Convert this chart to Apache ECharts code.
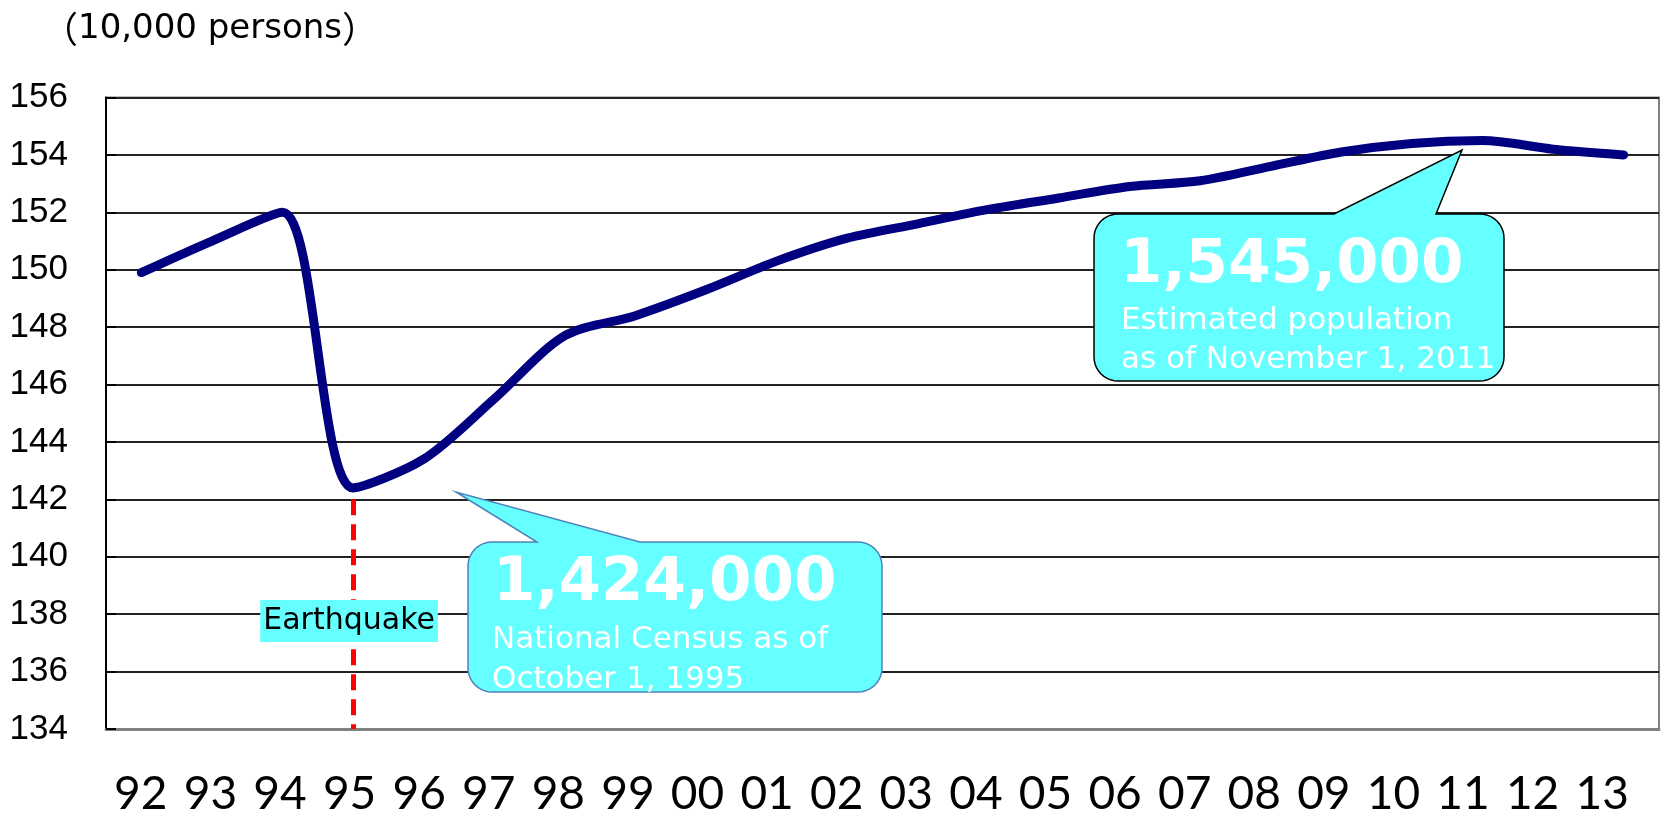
<!DOCTYPE html>
<html><head><meta charset="utf-8">
<script src="https://cdn.jsdelivr.net/npm/echarts@6/dist/echarts.min.js"></script>
<style>html,body{margin:0;padding:0;background:#fff}#chart{width:1664px;height:817px}</style>
</head><body><div id="chart"></div>
<script>
// ---- data ----
const years = ['92','93','94','95','96','97','98','99','00','01','02','03','04','05','06','07','08','09','10','11','12','13'];
const population = [149.9, 151.0, 152.0, 142.4, 143.4, 145.5, 147.7, 148.4, 149.3, 150.3, 151.1, 151.6, 152.1, 152.5, 152.9, 153.1, 153.6, 154.1, 154.4, 154.5, 154.2, 154.0];
const yMin = 134, yMax = 156, yStep = 2;
const unitText = '10,000 persons';
const eventYear = '95';
const eventTop = 142;
const eventLabel = 'Earthquake';
const eventLabelValue = 137.76;
const callout1Lines = ['1,424,000', 'National Census as of', 'October 1, 1995'];
const callout2Lines = ['1,545,000', 'Estimated population', 'as of November 1, 2011'];

// ---- helpers ----
function calloutPoints(x, y, w, h, r, b1, b2, tx, ty) {
  const pts = [];
  const arc = (cx, cy, a0, a1) => {
    const n = 10;
    for (let i = 0; i <= n; i++) {
      const a = a0 + (a1 - a0) * i / n;
      pts.push([cx + r * Math.cos(a), cy + r * Math.sin(a)]);
    }
  };
  arc(x + r, y + r, Math.PI, Math.PI * 1.5);
  pts.push([b1, y], [tx, ty], [b2, y]);
  arc(x + w - r, y + r, Math.PI * 1.5, Math.PI * 2);
  arc(x + w - r, y + h - r, 0, Math.PI * 0.5);
  arc(x + r, y + h - r, Math.PI * 0.5, Math.PI);
  return pts;
}
function txt(text, x, y, size, bold) {
  return {
    type: 'text', x: x, y: y, z: 12,
    style: {
      text: text, fill: '#ffffff',
      font: (bold ? 'bold ' : '') + size + 'px "DejaVu Sans", Verdana, sans-serif',
      align: 'left', verticalAlign: 'middle', textVerticalAlign: 'middle'
    }
  };
}

const chart = echarts.init(document.getElementById('chart'), null, {renderer: 'canvas'});
const option = {
  backgroundColor: '#ffffff',
  animation: false,
  grid: [
    {left: 106, right: 5, top: 97.5, bottom: 88, show: true, borderColor: '#808080', borderWidth: 2, backgroundColor: 'transparent'},
    {left: 106, width: 1531, top: 97.5, bottom: 88, show: false}
  ],
  xAxis: [
    {
      type: 'category', data: years, gridIndex: 0, boundaryGap: true,
      axisLine: {show: true, lineStyle: {color: '#808080', width: 3}},
      axisTick: {show: false},
      axisLabel: {show: false},
      splitLine: {show: false}
    },
    {
      type: 'category', data: years, gridIndex: 1, boundaryGap: true,
      axisLine: {show: false}, axisTick: {show: false}, splitLine: {show: false},
      axisLabel: {show: true, interval: 0, margin: 69, verticalAlign: 'middle', color: '#000', fontSize: 46, fontFamily: 'Lato, "Open Sans", sans-serif'}
    }
  ],
  yAxis: [
    {
      type: 'value', gridIndex: 0, min: yMin, max: yMax, interval: yStep,
      axisLine: {show: true, lineStyle: {color: '#000', width: 2}},
      axisTick: {show: true, inside: true, length: 10, lineStyle: {color: '#000', width: 2}},
      axisLabel: {margin: 38, color: '#000', fontSize: 35, fontFamily: '"Liberation Sans Narrow", "Liberation Sans", Arial, sans-serif'},
      splitLine: {show: true, lineStyle: {color: '#222', width: 2}}
    },
    {type: 'value', gridIndex: 1, min: yMin, max: yMax, show: false}
  ],
  series: [{
    type: 'line', xAxisIndex: 0, yAxisIndex: 0,
    data: population, smooth: 0.3, showSymbol: false, symbol: 'none',
    lineStyle: {color: '#000080', width: 9, cap: 'round', join: 'round'},
    z: 3,
    markLine: {
      silent: true, symbol: 'none', z: 4,
      label: {show: false},
      lineStyle: {color: '#ff0000', width: 5, type: [16, 9]},
      data: [[{coord: [eventYear, eventTop]}, {coord: [eventYear, yMin]}]]
    },
    markPoint: {
      silent: true, z: 6, symbol: 'rect', symbolSize: 0,
      data: [{coord: [eventYear, eventLabelValue]}],
      label: {
        show: true, position: 'inside', offset: [-4, 0],
        formatter: eventLabel, color: '#000', fontSize: 30,
        fontFamily: '"DejaVu Sans", Verdana, sans-serif',
        backgroundColor: '#66ffff', padding: [5, 3, 5, 3], lineHeight: 32
      }
    }
  }],
  graphic: [
    {type: 'text', x: 42, y: 29, z: 12, style: {
      text: '{p|（}{t|' + unitText + '}{p|）}', fill: '#000', align: 'left', verticalAlign: 'middle', textVerticalAlign: 'middle',
      rich: {
        p: {fontSize: 36, fontFamily: '"Noto Sans CJK JP", sans-serif', fill: '#000'},
        t: {fontSize: 34, fontFamily: '"DejaVu Sans", sans-serif', fill: '#000'}
      }
    }},
    {type: 'polygon', z: 10, shape: {points: calloutPoints(468, 542, 414, 150, 24, 537, 640, 456, 492)}, style: {fill: '#66ffff', stroke: '#4f81bd', lineWidth: 1.5}},
    txt(callout1Lines[0], 493, 584, 61, true),
    txt(callout1Lines[1], 492, 640, 31, false),
    txt(callout1Lines[2], 492, 680, 31, false),
    {type: 'polygon', z: 10, shape: {points: calloutPoints(1094, 214, 410, 167, 24, 1334, 1436, 1462, 150)}, style: {fill: '#66ffff', stroke: '#000', lineWidth: 1.5}},
    txt(callout2Lines[0], 1120, 266, 61, true),
    txt(callout2Lines[1], 1121, 321, 31, false),
    txt(callout2Lines[2], 1121, 360, 31, false)
  ]
};
chart.setOption(option);
</script>
</body></html>
